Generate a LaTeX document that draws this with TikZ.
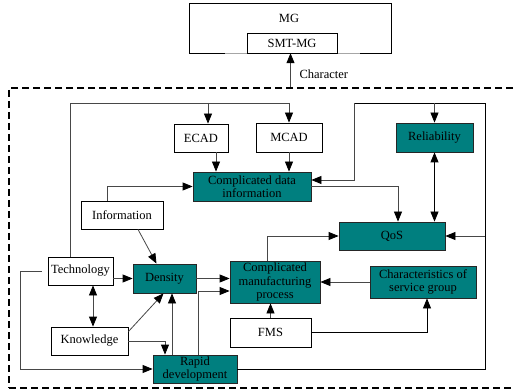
\documentclass[tikz,border=0pt]{standalone}
\usepackage{fontspec}
\setmainfont{Liberation Serif}
\newfontfamily\tnr{Liberation Serif}
\usetikzlibrary{arrows.meta}
\definecolor{tealc}{HTML}{007F7F}
\newcommand{\fs}{\tnr\fontsize{12.5}{13.2}\selectfont}
\tikzset{
  box/.style={draw=black, line width=0.8pt, fill=white, inner sep=0pt, align=center, font=\fs},
  tbox/.style={box, fill=tealc, draw=black!85},
  conn/.style={line width=0.8pt, draw=black!72},
  tip/.tip={Triangle[length=10pt,width=8pt,color=black]},
  arr/.style={conn, -tip},
  darr/.style={conn, tip-tip},
}
\begin{document}
\begin{tikzpicture}[x=1pt, y=-1pt]
\useasboundingbox (0,0) rectangle (514,390);
\clip (0,0) rectangle (514,390);

% dashed frame around the model
\node[draw=black, line width=2.4pt, dash pattern=on 7pt off 4pt, minimum width=531pt, minimum height=300pt, inner sep=0pt] (frame) at (274.5,238) {};

% MG block with the SMT-MG part on its lower edge
\node[minimum width=201pt, minimum height=49pt, inner sep=0pt] (mgbox) at (290.5,28.5) {};
\draw[line width=0.8pt] ([xshift=35pt]mgbox.south west) -- (mgbox.south west) -- (mgbox.north west)
  -- (mgbox.north east) -- (mgbox.south east) -- ([xshift=-31pt]mgbox.south east);
\draw[line width=0.6pt, black!35] ([xshift=35pt]mgbox.south west) -- ([xshift=-31pt]mgbox.south east);
\node[font=\fs] (mglbl) at (289,18) {MG};
\node[box, minimum width=90pt, minimum height=20pt] (smt) at (292,43) {SMT-MG};

% boxes
\node[box, minimum width=54pt, minimum height=28pt] (ecad) at (201,138) {ECAD};
\node[box, minimum width=66pt, minimum height=29pt] (mcad) at (289,137.5) {MCAD};
\node[tbox, minimum width=118pt, minimum height=29pt] (cdi) at (252,186.5) {Complicated data\\information};
\node[box, minimum width=82pt, minimum height=28pt] (info) at (122,215) {Information};
\node[tbox, minimum width=77pt, minimum height=29pt] (rel) at (434.5,137.5) {Reliability};
\node[tbox, minimum width=106pt, minimum height=28pt] (qos) at (392,236) {QoS};
\node[box, minimum width=65pt, minimum height=28pt] (tech) at (80.5,271) {Technology};
\node[tbox, minimum width=63pt, minimum height=29pt] (dens) at (164.5,278.5) {Density};
\node[tbox, minimum width=90pt, minimum height=42pt] (cmp) at (275,282) {Complicated\\manufacturing\\process};
\node[tbox, minimum width=106pt, minimum height=32pt] (char) at (423,282) {Characteristics of\\service group};
\node[box, minimum width=77pt, minimum height=28pt] (know) at (89.5,341) {Knowledge};
\node[box, minimum width=81pt, minimum height=29pt] (fms) at (270.5,332.5) {FMS};
\node[tbox, minimum width=84pt, minimum height=28pt] (rapid) at (195,369) {Rapid\\development};

% routing corners
\coordinate (tl) at (70,103);
\coordinate (tr) at (289,103);
\coordinate (rt) at (485,103);
\coordinate (lt) at (354,103);
\coordinate (ll) at (20,369);

% Character link up to SMT-MG
\draw[arr] (mgbox.south |- frame.north) -- (mgbox.south);
\node[font=\fs, anchor=west] (charlbl) at (296,74) {Character};

% Technology feeds ECAD and MCAD
\draw[conn] (tech.north -| tl) -- (tl) -- (tr);
\draw[arr] (tr) -- (mcad.north);
\draw[arr] ([xshift=7pt]ecad.north |- tl) -- ([xshift=7pt]ecad.north);

% into the complicated data information
\draw[arr] ([xshift=15pt]ecad.south) -- ([xshift=15pt]ecad.south |- cdi.north);
\draw[arr] (mcad.south) -- (mcad.south |- cdi.north);
\draw[arr] ([xshift=-15pt]info.north) |- (cdi.west);
\draw[arr] (cdi.east) -| ([xshift=6pt]qos.north);

% feedback loop from rapid development
\draw[conn, draw=black] (rapid.east) -| (rt) -- (lt);
\draw[arr] (lt) |- ([yshift=6.5pt]cdi.east);
\draw[arr] (rel.north |- rt) -- (rel.north);
\draw[arr] (qos.east -| rt) -- (qos.east);
\draw[darr, draw=black] (rel.south) -- (rel.south |- qos.north);

% manufacturing side
\draw[arr] ([xshift=-8pt]cmp.north) |- (qos.west);
\draw[arr] ([xshift=16pt]info.south) -- ([xshift=-8pt]dens.north);
\draw[arr] (tech.east |- dens.west) -- (dens.west);
\draw[arr] (dens.east) -- (dens.east -| cmp.west);
\draw[arr] ([xshift=3pt]rapid.north) |- ([yshift=-9pt]cmp.west);
\draw[arr] ([xshift=-23pt]rapid.north) -- ([xshift=-23pt]rapid.north |- dens.south);
\draw[arr] ([yshift=-5pt]know.north east) -- ([xshift=-1pt]dens.south);
\draw[arr] (know.east) -| ([xshift=-30pt]rapid.north);
\draw[darr] ([xshift=12.5pt]tech.south) -- ([xshift=12.5pt]tech.south |- know.north);
\draw[arr] ([xshift=-6pt]tech.west) -| (ll) -- (rapid.west);
\draw[arr] (fms.north) -- (fms.north |- cmp.south);
\draw[arr, draw=black] (fms.east) -| ([xshift=4pt]char.south);
\draw[arr] (char.west) -- (char.west -| cmp.east);
\end{tikzpicture}
\end{document}
